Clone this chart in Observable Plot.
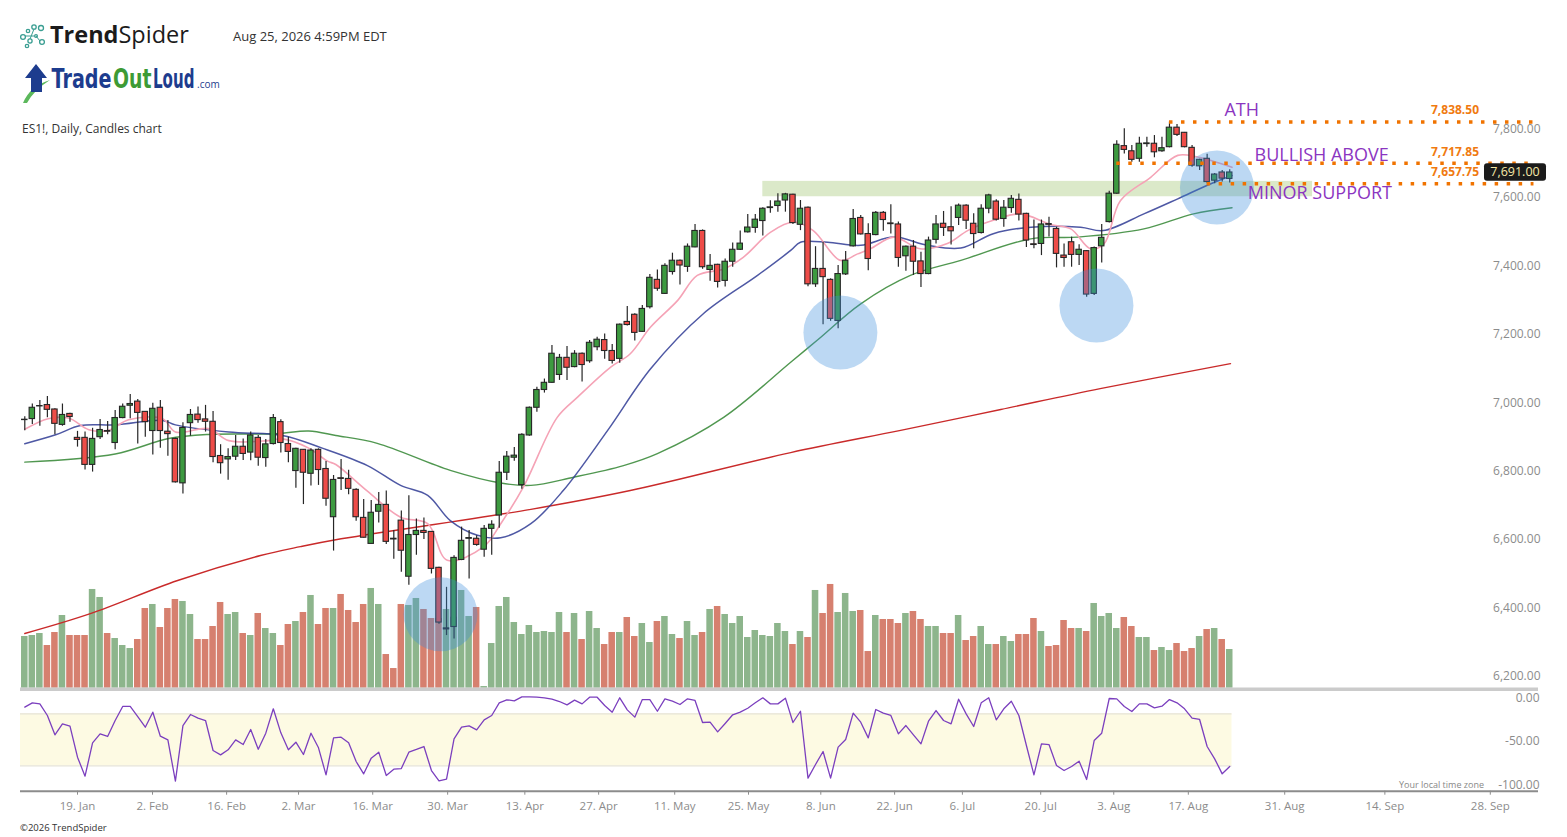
<!DOCTYPE html>
<html><head><meta charset="utf-8">
<script src="https://cdn.jsdelivr.net/npm/d3@7"></script>
<script src="https://cdn.jsdelivr.net/npm/@observablehq/plot@0.6"></script>
<style>
body{margin:0;background:#fff;}
#wrap{position:relative;width:1567px;height:837px;overflow:hidden;background:#fff;font-family:"Open Sans",sans-serif;}
.abs{position:absolute;left:0;}
</style></head><body>
<div id="wrap">
  <div id="price" class="abs" style="top:100px"></div>
  <div id="osc" class="abs" style="top:690px"></div>
</div>
<script>
// ---------- DATA ----------
const opens = [6967,6970,7007,7011,6998,6953,6985,6915,6915,6836, 6917,6935,6900,6973,7009,7021,6991,6935,7003,6933, 6912,6782,6958,6983,6969,6962,6862,6852,6860,6889, 6872,6915,6856,6897,6961,6897,6818,6880,6810,6880, 6824,6683,6797,6795,6763,6681,6605,6699,6719,6620, 6673,6509,6631,6643,6640,6535,6355,6362,6558,6620, 6620,6588,6649,6688,6813,6857,6777,6922,7003,7055, 7076,7099,7149,7122,7161,7139,7180,7201,7169,7146, 7254,7275,7225,7297,7377,7336,7400,7433,7415,7472, 7520,7406,7421,7374,7430,7465,7516,7529,7549,7587, 7593,7609,7626,7538,7588,7364,7409,7377,7257,7393, 7475,7558,7511,7508,7573,7542,7539,7446,7474,7431, 7394,7494,7541,7531,7558,7594,7541,7514,7585,7606, 7555,7587,7611,7570,7481,7482,7540,7526,7448,7487, 7450,7461,7336,7475,7546,7629,7768,7753,7731,7774, 7775,7753,7765,7822,7807,7763,7709,7731,7667,7691, 7672];
const highs = [6977,7014,7024,7036,7000,7014,6987,6934,6932,6943, 6969,6963,6995,7014,7042,7027,6991,7016,7024,6966, 6914,6959,6998,7005,7010,6992,6895,6883,6922,6912, 6932,6922,6910,6983,6968,6917,6885,6881,6883,6883, 6846,6805,6852,6820,6766,6735,6732,6755,6760,6644, 6701,6746,6678,6681,6640,6537,6478,6570,6654,6644, 6629,6659,6673,6846,6875,6887,6927,7005,7063,7087, 7185,7159,7182,7170,7163,7200,7209,7219,7188,7248, 7299,7278,7302,7393,7406,7424,7455,7435,7482,7539, 7523,7451,7423,7438,7485,7520,7568,7568,7588,7608, 7629,7630,7627,7609,7590,7474,7487,7380,7419,7460, 7583,7565,7541,7577,7577,7597,7546,7476,7492,7458, 7502,7565,7577,7591,7599,7597,7570,7597,7627,7611, 7609,7624,7628,7572,7552,7552,7560,7531,7482,7502, 7480,7463,7473,7539,7636,7784,7819,7770,7794,7794, 7799,7794,7838.5,7831,7808,7770,7730,7744,7688,7697, 7699];
const lows = [6936,6954,6949,6974,6924,6949,6961,6888,6821,6815, 6910,6924,6880,6971,6971,6897,6917,6865,6885,6861, 6783,6751,6920,6958,6932,6842,6809,6791,6849,6849, 6848,6832,6829,6894,6871,6842,6768,6720,6774,6776, 6715,6584,6761,6749,6671,6622,6605,6666,6603,6560, 6522,6484,6572,6618,6517,6370,6337,6327,6556,6502, 6598,6566,6572,6651,6790,6847,6765,6920,6990,7046, 7075,7083,7083,7120,7078,7133,7170,7145,7131,7133, 7242,7198,7223,7292,7344,7334,7391,7362,7399,7471, 7408,7373,7353,7356,7414,7463,7514,7513,7505,7572, 7575,7575,7539,7521,7357,7355,7246,7256,7234,7390, 7473,7508,7404,7506,7519,7511,7414,7402,7390,7355, 7392,7482,7504,7479,7536,7524,7468,7511,7570,7549, 7531,7572,7549,7472,7468,7448,7502,7412,7414,7414, 7419,7326,7331,7426,7543,7627,7745,7721,7721,7765, 7734,7750,7763,7796,7763,7706,7697,7658,7658,7663, 7660];
const closes = [6968,7003,7008,6997,6956,6982,6976,6909,6836,6912, 6938,6933,6973,7006,7014,6988,6961,7000,6935,6926, 6785,6944,6982,6967,6962,6859,6841,6859,6889,6868, 6922,6857,6896,6973,6900,6874,6883,6813,6878,6821, 6737,6792,6795,6766,6683,6623,6696,6719,6611,6618, 6585,6631,6643,6637,6532,6375,6358,6564,6614,6622, 6602,6649,6661,6813,6860,6863,6924,7003,7055,7076, 7161,7149,7120,7161,7128,7193,7202,7169,7140,7246, 7245,7222,7292,7383,7351,7418,7433,7419,7474,7520, 7414,7418,7371,7430,7465,7483,7530,7553,7585,7589, 7606,7627,7543,7585,7364,7409,7385,7263,7394,7433, 7555,7510,7438,7573,7552,7540,7441,7474,7430,7394, 7492,7539,7529,7519,7594,7550,7511,7585,7624,7553, 7588,7614,7568,7492,7479,7539,7538,7453,7441,7450, 7465,7334,7470,7500,7629,7772,7757,7728,7775,7776, 7750,7762,7822,7801,7765,7711,7728,7663,7685,7673, 7691];
// volume, thousands of contracts
const volumes = [1240,1264,1312,1024,1336,1744,1264,1264,1264,2368, 2176,1312,1192,1024,952,1168,1912,2008,1456,1912, 2128,2080,1768,1168,1168,1480,2056,1768,1816,1312, 1264,1792,1432,1312,1024,1528,1600,1816,2224,1528, 1912,1912,2248,1864,1576,2008,2392,2008,808,472, 2008,1984,2152,1888,1672,1672,1888,1704,2344,1720, 1936,40,1072,1960,2176,1576,1288,1504,1336,1360, 1336,1816,1336,1792,1168,1840,1432,1048,1336,1336,1696, 1240,1552,1096,1600,1720,1288,1192,1600,1264,1336, 1888,1960,1768,1552,1720,1216,1384,1264,1240,1552, 1360,1048,1360,1216,2344,1792,2488,1816,2272,1840, 1864,880,1744,1648,1648,1552,1792,1840,1648,1480, 1480,1312,1312,1744,1144,1240,1480,1048,1048,1240, 1120,1288,1288,1672,1360,1000,1024,1624,1432,1432, 1360,2032,1720,1792,1432,1696,1480,1216,1216,904, 976,904,1072,880,952,1240,1408,1432,1168,928];
// oscillator (Williams %R style, 0 .. -100)
const willR = [-12.3,-7.3,-8.5,-21.9,-44.2,-31.5,-34.2,-70.0,-91.9,-53.4, -43.1,-46.1,-27.7,-11.5,-11.5,-23.1,-35.4,-18.1,-45.8,-50.0, -97.7,-33.5,-20.8,-25.0,-27.7,-62.3,-67.3,-61.5,-50.0,-55.4, -38.1,-60.8,-42.3,-14.2,-41.9,-61.5,-52.7,-66.9,-42.3,-59.2, -90.4,-47.7,-46.9,-53.4,-75.0,-89.2,-71.1,-64.2,-91.1,-83.8, -83.1,-64.2,-61.1,-57.7,-85.4,-97.3,-95.4,-48.8,-35.4,-33.8, -38.5,-26.9,-21.9,-7.3,-3.8,-5.0,-0.4,-0.4,-0.8,-1.5, -3.1,-5.8,-9.6,-4.2,-8.5,-0.8,-0.8,-10.4,-18.1,-1.5,-15.4, -23.8,-3.5,-3.5,-17.0,-2.7,-5.4,-9.2,-2.7,-4.6,-30.0, -29.6,-40.8,-31.1,-21.1,-18.1,-13.5,-7.3,-1.5,-8.5,-8.5, -1.9,-30.0,-17.0,-94.2,-78.4,-63.4,-94.2,-58.4,-49.6,-19.2, -29.6,-47.7,-15.0,-19.2,-21.9,-43.1,-33.5,-44.2,-54.6,-28.5, -16.2,-27.7,-31.5,-3.1,-20.0,-34.6,-7.3,-1.5,-27.0,-14.2, -5.4,-21.9,-56.5,-90.4,-54.6,-55.4,-79.6,-85.4,-80.7,-74.6, -95.7,-50.8,-42.3,-2.3,-2.7,-11.5,-17.3,-8.5,-8.5,-13.1, -11.2,-3.5,-7.3,-14.2,-25.0,-26.5,-57.7,-71.9,-89.2,-80.7];
// moving averages read at sample bars (bar index, value)
const fastMaBar = [0,3.1,5.8,8.5,11.1,13.8,18.3,20,24.4,27.1, 32.4,34.2,37.7,40.2,41.3,45.5,49.9,53.5,56.1,60.9, 63.2,66.2,70.7,73.4,77.8,80.4,83.1,86.7,89.3,92.8, 95.4,99,102.1,104.7,108.3,110.6,112.3,115.4,118.9,122.5, 125.2,128.6,132.2,136.2,138.9,141.5,143.3,145.5,149.5,153.1, 155.7,160.3];
const fastMaVal = [6940,6971,6973,6939,6937,6968,6971,6932,6942,6907, 6907,6912,6885,6847,6837,6759,6683,6664,6557,6596, 6664,6771,6975,7034,7122,7161,7239,7317,7390,7409, 7443,7516,7546,7521,7434,7453,7468,7502,7468,7483, 7521,7551,7570,7539,7526,7468,7482,7609,7677,7741, 7736,7706];
const midMaBar = [0,4.1,7.4,12.1,18.3,20,27.1,34.2,39.5,45.5, 49.9,53.5,56.5,60.1,63.2,67.2,71.5,77.4,83.1,90.1, 97.3,101.7,103,106.6,111,115.4,119.9,124.3,128.6,133.6, 140.2,143.2,148.6,153.1,157.5,160.3];
const midMaVal = [6898,6924,6951,6953,6966,6953,6932,6922,6885,6834, 6776,6747,6673,6630,6623,6664,6761,6937,7117,7278, 7390,7463,7487,7487,7478,7502,7478,7470,7512,7531, 7531,7521,7570,7614,7658,7682];
const slowMaBar = [0,12,19.1,24.4,33.3,37.7,41.3,46.8,56.5,63.2, 67.2,72.9,79.5,84,92.8,101.7,105.3,111,117.6,124.3, 133.6,139.8,148.6,155.2,160.3];
const slowMaVal = [6844,6868,6913,6925,6927,6935,6922,6899,6820,6783, 6776,6800,6834,6869,6975,7136,7202,7307,7390,7434, 7497,7502,7526,7570,7588];
const longMaBar = [0,8.7,20.3,31.3,36.6,41.3,67.2,80.4,101.7,116.3,129.6,142.8,160.1];
const longMaVal = [6343,6401,6498,6571,6597,6617,6706,6761,6872,6937,6998,7059,7132];
// x-axis ticks (bar position, label)
const tickBars = [7,16.96,26.8,36.35,46.2,56.15,66.4,76.2,86.3,96.1,105.7,115.5,124.5,134.9,144.6,154.5,167.3,180.6,194.6];
const tickLabels = ["19. Jan","2. Feb","16. Feb","2. Mar","16. Mar","30. Mar","13. Apr","27. Apr","11. May","25. May","8. Jun","22. Jun","6. Jul","20. Jul","3. Aug","17. Aug","31. Aug","14. Sep","28. Sep"];
const priceTicks = [6200,6400,6600,6800,7000,7200,7400,7600,7800];
const oscTicks = [0,-50,-100];
// drawings
const levelNames = ["ATH","BULLISH ABOVE","MINOR SUPPORT"];
const levelPrices = [7838.50, 7717.85, 7657.75];
const levelFromBar = [152, 145, 157];
const zoneBars = [98, 171];
const zonePrices = [7620, 7665];
const circleBars = [55.2, 108.3, 142.3, 158.3];
const circlePrices = [6399, 7223, 7302, 7647];
const oscBand = [-80, -20];
const lastPrice = 7691.00;

// ---------- BUILD ----------
const n = closes.length;
const bars = d3.range(n).map(i => ({i, o: opens[i], h: highs[i], l: lows[i], c: closes[i], v: volumes[i], w: willR[i]}));
const pairs = (b, v) => b.map((x, k) => ({x, y: v[k]}));
const levels = levelNames.map((label, k) => ({label, price: levelPrices[k], from: levelFromBar[k]}));
const zone = [{x1: zoneBars[0], x2: zoneBars[1], y1: zonePrices[0], y2: zonePrices[1]}];
const circles = circleBars.map((x, k) => ({x, y: circlePrices[k]}));
const fmt = d3.format(",.2f");
const up = d => d.c >= d.o;
const xDomain = [-0.57, 201.0];
const levelEnd = 200.4;
const volY = d3.scaleLinear([0, 2600], [6183, 6500]);   // volume pane in price space
const labelStyle = {"ATH": {x: 159.3, dy: -11.5}, "BULLISH ABOVE": {x: 163.3, dy: -7.8}, "MINOR SUPPORT": {x: 162.4, dy: 9.5}};
const valueLabelX = 193.1;
const font = "'Open Sans', sans-serif";

const priceChart = Plot.plot({
  width: 1567, height: 590,
  marginLeft: 20, marginRight: 29, marginTop: 0, marginBottom: 0,
  style: {background: "transparent", overflow: "visible", fontFamily: font},
  x: {domain: xDomain, axis: null, label: null},
  y: {domain: [6200, 7800], range: [581.9, 34.7], label: null},
  marks: [
    Plot.rect(zone, {x1: "x1", x2: "x2", y1: "y1", y2: "y2", fill: "#dbe9c9"}),
    Plot.rect(bars, {x1: d => d.i - 0.5, x2: d => d.i + 0.5, y1: () => volY(0), y2: d => volY(d.v),
      insetLeft: 0.5, insetRight: 0.5, fill: d => up(d) ? "#8db58c" : "#d6806f"}),
    Plot.ruleY([volY(0)], {stroke: "#cbcbcb", strokeWidth: 3.5, dy: 1}),
    Plot.line(pairs(longMaBar, longMaVal), {x: "x", y: "y", stroke: "#c92a2a", strokeWidth: 1.4, curve: "catmull-rom"}),
    Plot.line(pairs(slowMaBar, slowMaVal), {x: "x", y: "y", stroke: "#3d8c3d", strokeWidth: 1.4, strokeOpacity: 0.9, curve: "catmull-rom"}),
    Plot.line(pairs(midMaBar, midMaVal), {x: "x", y: "y", stroke: "#2f3b94", strokeWidth: 1.5, strokeOpacity: 0.85, curve: "catmull-rom"}),
    Plot.line(pairs(fastMaBar, fastMaVal), {x: "x", y: "y", stroke: "#f5a3b6", strokeWidth: 1.6, curve: "catmull-rom"}),
    Plot.ruleX(bars, {x: "i", y1: "l", y2: "h", stroke: "#262626", strokeWidth: 1.2}),
    Plot.rect(bars, {x1: d => d.i - 0.36, x2: d => d.i + 0.36, y1: "o", y2: "c",
      fill: d => up(d) ? "#3d9a40" : "#ee4c48", stroke: "#262626", strokeWidth: 1.1}),
    Plot.dot(circles, {x: "x", y: "y", r: 37, fill: "#3c8cdc", fillOpacity: 0.34}),
    Plot.ruleY(levels, {y: "price", x1: "from", x2: () => levelEnd, stroke: "#f07300", strokeWidth: 3.5, strokeDasharray: "3.5,8.5"}),
    ...levels.map(L => Plot.text([L], {x: () => labelStyle[L.label].x, y: "price", text: "label",
      dy: labelStyle[L.label].dy, textAnchor: "start", fill: "#8b35c1", fontSize: 18})),
    Plot.text(levels, {x: () => valueLabelX, y: "price", text: d => fmt(d.price), dy: -11.5,
      textAnchor: "end", fill: "#f07a10", fontSize: 12, fontWeight: 700}),
    Plot.axisY({anchor: "right", ticks: priceTicks, tickFormat: fmt, tickSize: 0, tickPadding: 2,
      textAnchor: "end", dy: -6, color: "#8c8c8c", fontSize: 12, label: null})
  ]
});
document.getElementById("price").appendChild(priceChart);

const oscH = 125, oscMB = 24.3;
const oscRange = [92.7, 6];
const axisLineVal = d3.scaleLinear([-100, 0], oscRange).invert(oscH - oscMB);
const labelOf = new Map(tickBars.map((b, k) => [b, tickLabels[k]]));
const oscChart = Plot.plot({
  width: 1567, height: oscH,
  marginLeft: 20, marginRight: 29, marginTop: 0, marginBottom: oscMB,
  style: {background: "transparent", overflow: "visible", fontFamily: font},
  x: {domain: xDomain, label: null},
  y: {domain: [-100, 0], range: oscRange, label: null},
  marks: [
    Plot.rect([oscBand], {x1: () => xDomain[0], x2: () => n - 0.7, y1: d => d[0], y2: d => d[1], fill: "#fdfae3"}),
    Plot.ruleY(oscBand, {x1: () => xDomain[0], x2: () => n - 0.7, stroke: "#e6e3d7", strokeWidth: 1.3}),
    Plot.line(bars, {x: "i", y: "w", stroke: "#7b3fbe", strokeWidth: 1.3}),
    Plot.ruleY([axisLineVal], {stroke: "#8c8c8c", strokeWidth: 2}),
    Plot.axisX({ticks: tickBars, tickFormat: d => labelOf.get(d), tickSize: 4, tickPadding: 7,
      color: "#8c8c8c", fontSize: 11.5, label: null}),
    Plot.axisY({anchor: "right", ticks: oscTicks, tickFormat: d => d.toFixed(2), tickSize: 0, tickPadding: 1,
      textAnchor: "end", dy: 1.5, color: "#8c8c8c", fontSize: 12, label: null})
  ]
});
document.getElementById("osc").appendChild(oscChart);

// ---------- header, footer, price badge ----------
const svg = d3.select("#wrap").append("svg")
  .attr("width", 1567).attr("height", 837)
  .style("position", "absolute").style("left", 0).style("top", 0).style("pointer-events", "none")
  .style("font-family", font);

// TrendSpider mark
const sp = svg.append("g").attr("fill", "none").attr("stroke", "#3a9e92").attr("stroke-width", 1.3);
[[23,37,2.4],[28,31,1.7],[34,27,2.2],[41,28,2.5],[30,41,2.1],[36,36,1.4],[42,42,2.4],[27,46,1.7]]
  .forEach(([cx, cy, r]) => sp.append("circle").attr("cx", cx).attr("cy", cy).attr("r", r));
sp.append("path").attr("d", "M25,36 L34,36 M30,39 L34,29 M36,36 L40,41").attr("stroke-width", 1);
const ts = svg.append("text").attr("x", 50).attr("y", 42.7).attr("font-size", 23.5).attr("fill", "#1b1b1b");
ts.append("tspan").attr("font-weight", 700).text("Trend");
ts.append("tspan").attr("font-weight", 400).text("Spider");
svg.append("text").attr("x", 233).attr("y", 40.7).attr("font-size", 13).attr("fill", "#333").text("Aug 25, 2026 4:59PM EDT");

// TradeOutLoud logo (three condensed words, squeezed with a horizontal scale)
svg.append("path").attr("d", "M23,103 Q30,86 50,80 Q34,90 27,103 Z").attr("fill", "#5cb85c");
svg.append("polygon").attr("points", "36,64 47,78 42,78 42,92 31,92 31,78 25,78").attr("fill", "#1d3c8e");
[["Trade", 51.5, 60, "#1d3c8e"], ["Out", 113, 38.5, "#3d9b35"], ["Loud", 153, 41.5, "#1d3c8e"]].forEach(([w, x, len, col]) => {
  const g = svg.append("g");
  const t = g.append("text").attr("x", 0).attr("y", 0).attr("font-size", 27).attr("font-weight", 700)
    .attr("font-family", "'DejaVu Sans',sans-serif").attr("fill", col).text(w);
  const natural = t.node().getComputedTextLength() || len;
  g.attr("transform", `translate(${x},88.3) scale(${len / natural},1)`);
});
svg.append("text").attr("x", 197).attr("y", 88).attr("font-size", 10).attr("fill", "#1d3c8e").text(".com");

svg.append("text").attr("x", 22).attr("y", 133.3).attr("font-size", 12).attr("fill", "#333").text("ES1!, Daily, Candles chart");
svg.append("text").attr("x", 20).attr("y", 830.5).attr("font-size", 9.5).attr("fill", "#333").text("©2026 TrendSpider");
svg.append("text").attr("x", 1484).attr("y", 787.5).attr("text-anchor", "end").attr("font-size", 9).attr("fill", "#888").text("Your local time zone");

// last price badge, placed with the price scale
const yb = 100 + priceChart.scale("y").apply(lastPrice);
svg.append("rect").attr("x", 1484).attr("y", yb - 8.7).attr("width", 62).attr("height", 17.4).attr("rx", 3).attr("fill", "#1b1b1b");
svg.append("text").attr("x", 1515).attr("y", yb).attr("dy", "0.35em").attr("text-anchor", "middle")
  .attr("font-size", 12.5).attr("fill", "#f6e8a6").text(fmt(lastPrice));
</script>
</body></html>
